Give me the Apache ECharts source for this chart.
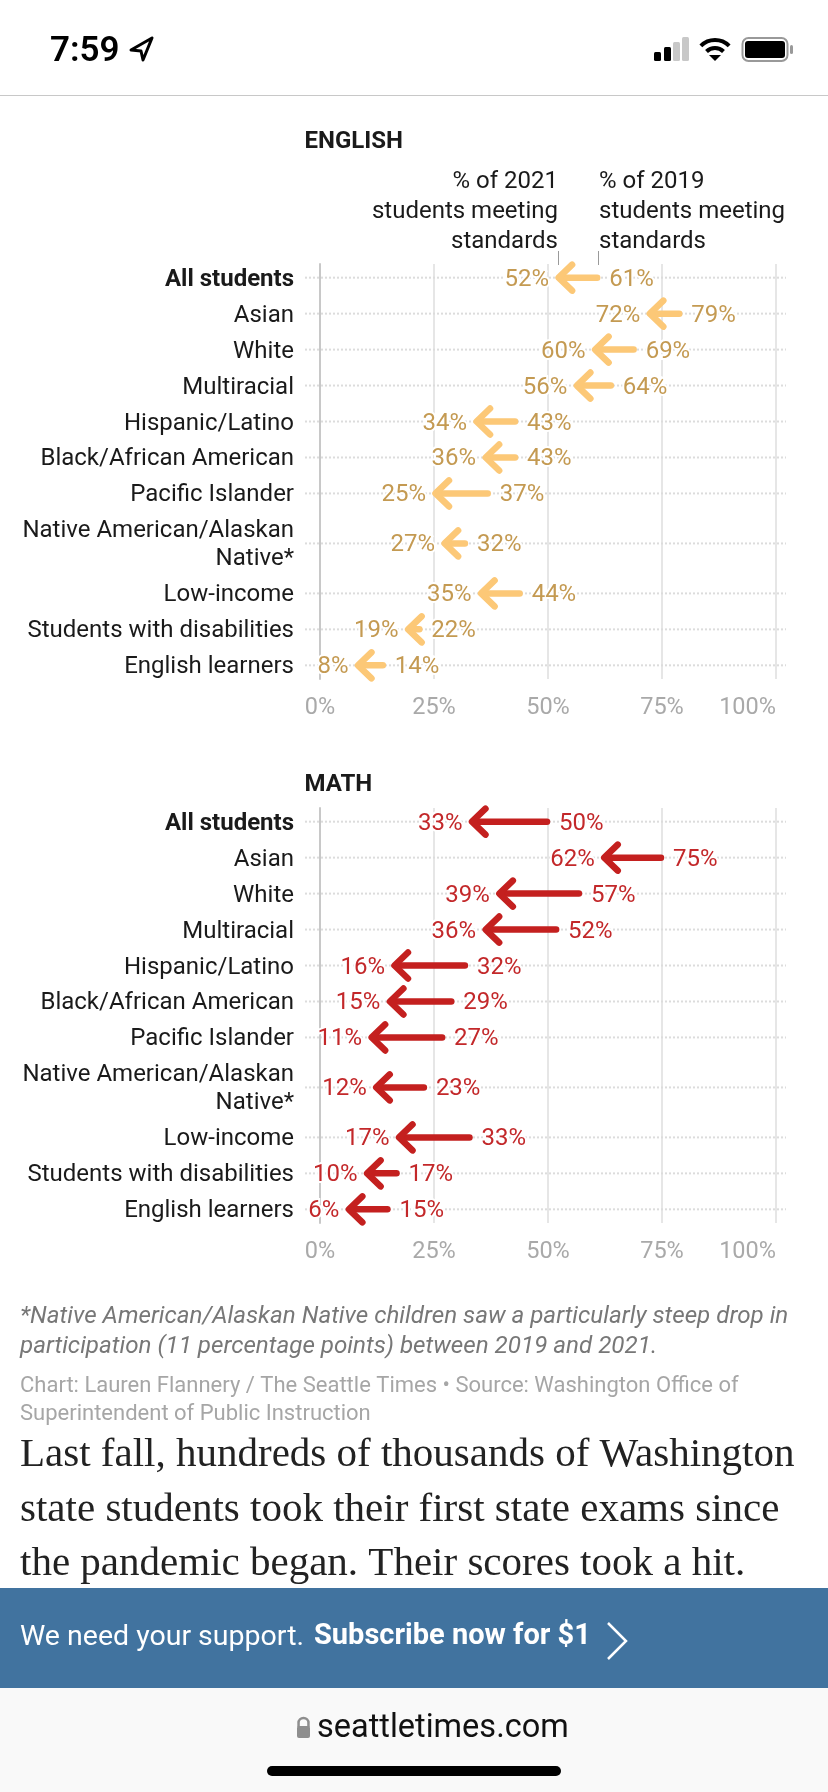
<!DOCTYPE html>
<html>
<head>
<meta charset="utf-8">
<title>Washington state test scores</title>
<script src="https://cdn.jsdelivr.net/npm/echarts@6/dist/echarts.min.js"></script>
<style>html,body{margin:0;padding:0;background:#fff}</style>
</head>
<body>
<div id="main" style="width:828px;height:1792px;"></div>
<script type="text/javascript">
var categories = ['All students', 'Asian', 'White', 'Multiracial', 'Hispanic/Latino', 'Black/African American',
    'Pacific Islander', 'Native American/Alaskan\nNative*', 'Low-income', 'Students with disabilities', 'English learners'];
var english2019 = [61, 79, 69, 64, 43, 43, 37, 32, 44, 22, 14];
var english2021 = [52, 72, 60, 56, 34, 36, 25, 27, 35, 19, 8];
var math2019 = [50, 75, 57, 52, 32, 29, 27, 23, 33, 17, 15];
var math2021 = [33, 62, 39, 36, 16, 15, 11, 12, 17, 10, 6];

var FONT = 'Roboto';
var SERIF = 'Liberation Serif';

// row centres in row units, a two line label makes its row taller
var rowCenters = [];
var rowEnd = 0;
categories.forEach(function (c) {
    var h = 1 + (c.split('\n').length - 1) * 0.78;
    rowCenters.push(rowEnd + h / 2);
    rowEnd += h;
});

function rowItem(style) {
    return function (params, api) {
        var y = api.value(0);
        var from = api.coord([api.value(1), y]);
        var to = api.coord([api.value(2), y]);
        var zero = api.coord([0, y]);
        var full = api.coord([100, y]);
        var cy = from[1];
        var v = function (n) { return n + '%'; };
        return {
            type: 'group',
            children: [
                { type: 'line', shape: { x1: zero[0] - 15, y1: cy, x2: full[0] + 10, y2: cy },
                    style: { stroke: '#dcdcdc', lineWidth: 2, lineDash: [2, 2] } },
                { type: 'line', shape: { x1: from[0] - 1, y1: cy, x2: to[0] + 4, y2: cy },
                    style: { stroke: style.arrow, lineWidth: 6.5, lineCap: 'round' } },
                { type: 'polyline', shape: { points: [[to[0] + 15, cy - 13], [to[0] + 1.5, cy], [to[0] + 15, cy + 13]] },
                    style: { stroke: style.arrow, fill: null, lineWidth: 6.5, lineCap: 'round', lineJoin: 'round' } },
                { type: 'text', x: to[0] - 8, y: cy + 2,
                    style: { text: v(api.value(2)), fill: style.text, font: '24px ' + FONT, align: 'right',
                        verticalAlign: 'middle', stroke: '#fff', lineWidth: 4 } },
                { type: 'text', x: from[0] + 11, y: cy + 2,
                    style: { text: v(api.value(1)), fill: style.text, font: '24px ' + FONT, align: 'left',
                        verticalAlign: 'middle', stroke: '#fff', lineWidth: 4 } }
            ]
        };
    };
}

function makeRows(a, b) {
    return categories.map(function (c, i) { return [rowCenters[i], a[i], b[i]]; });
}

var panels = [
    { top: 264, values19: english2019, values21: english2021, arrow: '#fcc877', text: '#c49a52' },
    { top: 808, values19: math2019, values21: math2021, arrow: '#c4201f', text: '#c3282a' }
];

var grids = [], xAxes = [], yAxes = [], series = [];
panels.forEach(function (p, i) {
    grids.push({ left: 320, width: 456, top: p.top, height: 415 });
    xAxes.push({
        gridIndex: i, type: 'value', min: 0, max: 100, interval: 25,
        axisLine: { show: false }, axisTick: { show: false },
        splitLine: { show: true, lineStyle: { color: '#e6e6e6', width: 2 } },
        axisLabel: { color: '#a9a9a9', fontFamily: FONT, fontSize: 23.5, margin: 17, alignMaxLabel: 'right',
            formatter: function (n) { return n + '%'; } }
    });
    yAxes.push({
        gridIndex: i, type: 'value', inverse: true, min: 0.12, max: rowEnd - 0.12,
        splitLine: { show: false }, axisTick: { show: false },
        axisLine: { show: true, lineStyle: { color: '#c8c8c8', width: 2 } },
        axisLabel: {
            customValues: rowCenters, margin: 26, color: '#1a1a1a', fontFamily: FONT, fontSize: 24, lineHeight: 28,
            padding: [4, 0, 0, 0],
            formatter: function (n) {
                var name = categories[rowCenters.indexOf(n)];
                return name === 'All students' ? '{b|' + name + '}' : name;
            },
            rich: { b: { fontWeight: 'bold', fontFamily: FONT, fontSize: 24, color: '#1a1a1a' } }
        }
    });
    series.push({
        type: 'custom', xAxisIndex: i, yAxisIndex: i, clip: false,
        encode: { x: [1, 2], y: 0 },
        renderItem: rowItem(p),
        data: makeRows(p.values19, p.values21)
    });
});

function txt(x, y, text, font, fill, align) {
    return { type: 'text', x: x, y: y, silent: true,
        style: { text: text, font: font, fill: fill, align: align || 'left', verticalAlign: 'middle' } };
}
function rect(x, y, w, h, fill, r) {
    return { type: 'rect', silent: true, shape: { x: x, y: y, width: w, height: h, r: r || 0 }, style: { fill: fill } };
}
function tickLine(x) {
    return { type: 'line', silent: true, shape: { x1: x, y1: 251, x2: x, y2: 265 }, style: { stroke: '#9a9a9a', lineWidth: 1 } };
}

var graphics = [
    // status bar
    txt(50, 52, '7:59', '600 35px Roboto', '#000'),
    { type: 'polygon', silent: true, shape: { points: [[152, 38], [131, 50], [141, 51], [143, 60]] },
        style: { fill: '#fff', stroke: '#000', lineWidth: 3, lineJoin: 'round' } },
    rect(654, 52, 7, 9, '#000', 1.5), rect(664, 47, 7, 14, '#000', 1.5),
    rect(673, 42, 7, 19, '#c8c8c8', 1.5), rect(682, 37, 7, 24, '#c8c8c8', 1.5),
    { type: 'arc', silent: true, shape: { cx: 715, cy: 60, r: 20, startAngle: -Math.PI * 0.75, endAngle: -Math.PI * 0.25 },
        style: { stroke: '#000', lineWidth: 4, fill: null } },
    { type: 'arc', silent: true, shape: { cx: 715, cy: 60, r: 12, startAngle: -Math.PI * 0.75, endAngle: -Math.PI * 0.25 },
        style: { stroke: '#000', lineWidth: 4, fill: null } },
    { type: 'polygon', silent: true, shape: { points: [[709, 55], [721, 55], [715, 61]] }, style: { fill: '#000' } },
    { type: 'rect', silent: true, shape: { x: 742.5, y: 38, width: 45, height: 23, r: 6 },
        style: { fill: '#fff', stroke: '#999', lineWidth: 2 } },
    rect(745, 41, 40, 17, '#000', 3),
    rect(790, 45, 3, 9, '#999', 1.5),
    rect(0, 95, 828, 1, '#c8c8c8'),
    // panel titles and the key
    txt(304.5, 142, 'ENGLISH', 'bold 24px ' + FONT, '#1a1a1a'),
    txt(304.5, 785, 'MATH', 'bold 24px ' + FONT, '#1a1a1a'),
    txt(558, 182, '% of 2021', '24px ' + FONT, '#1a1a1a', 'right'),
    txt(558, 212, 'students meeting', '24px ' + FONT, '#1a1a1a', 'right'),
    txt(558, 242, 'standards', '24px ' + FONT, '#1a1a1a', 'right'),
    txt(599, 182, '% of 2019', '24px ' + FONT, '#1a1a1a'),
    txt(599, 212, 'students meeting', '24px ' + FONT, '#1a1a1a'),
    txt(599, 242, 'standards', '24px ' + FONT, '#1a1a1a'),
    tickLine(558.5), tickLine(598.5),
    // notes
    txt(20, 1317, '*Native American/Alaskan Native children saw a particularly steep drop in', 'italic 24.2px ' + FONT, '#777'),
    txt(20, 1347, 'participation (11 percentage points) between 2019 and 2021.', 'italic 24.2px ' + FONT, '#777'),
    txt(20, 1386, 'Chart: Lauren Flannery / The Seattle Times \u2022 Source: Washington Office of', '22px ' + FONT, '#a6a6a6'),
    txt(20, 1414, 'Superintendent of Public Instruction', '22px ' + FONT, '#a6a6a6'),
    // article text
    txt(20, 1455, 'Last fall, hundreds of thousands of Washington', '41px ' + SERIF, '#222'),
    txt(20, 1510, 'state students took their first state exams since', '41px ' + SERIF, '#222'),
    txt(20, 1564, 'the pandemic began. Their scores took a hit.', '41px ' + SERIF, '#222'),
    // subscribe banner
    rect(0, 1588, 828, 100, '#41739f'),
    txt(20, 1638, 'We need your support.', '28.5px ' + FONT, '#fff'),
    txt(314, 1637, 'Subscribe now for $1', 'bold 29px ' + FONT, '#fff'),
    { type: 'polyline', silent: true, shape: { points: [[608, 1623], [626, 1641], [608, 1659]] },
        style: { stroke: '#fff', lineWidth: 2.5, fill: null } },
    // browser footer
    rect(0, 1688, 828, 104, '#f9f9f9'),
    rect(297, 1726, 13, 12, '#8e8e8e', 2),
    { type: 'arc', silent: true, shape: { cx: 303.5, cy: 1723, r: 5, startAngle: Math.PI, endAngle: 0 },
        style: { stroke: '#8e8e8e', lineWidth: 2.5, fill: null } },
    rect(297.3, 1723, 2.5, 4, '#8e8e8e'), rect(307.2, 1723, 2.5, 4, '#8e8e8e'),
    txt(317, 1729, 'seattletimes.com', '32.5px Roboto', '#111'),
    rect(267, 1766, 294, 10, '#000', 5)
];

var myChart = echarts.init(document.getElementById('main'));
myChart.setOption({
    animation: false,
    backgroundColor: '#fff',
    grid: grids,
    xAxis: xAxes,
    yAxis: yAxes,
    series: series,
    graphic: graphics
});
</script>
</body>
</html>
